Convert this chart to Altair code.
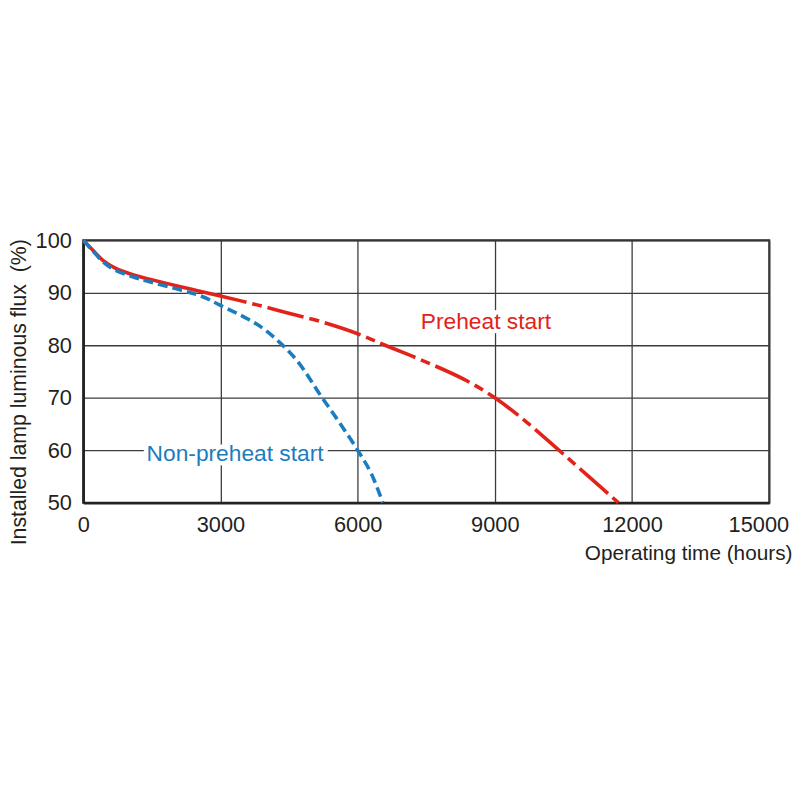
import altair as alt
import pandas as pd

# Preheat start (red)
red_x = [0, 200, 430, 700, 1100, 1450, 2150, 2500, 3000, 3800, 4450, 5200, 6000, 6600,
         7500, 8350, 9000, 9700, 10400, 11000, 11700]
red_y = [100, 98.2, 96.2, 94.7, 93.4, 92.6, 91.1, 90.4, 89.4, 87.7, 86.2, 84.5, 82.2, 80.0,
         76.8, 73.4, 70.0, 65.3, 60.0, 55.4, 50.0]
# Non-preheat start (blue)
blue_x = [0, 200, 430, 700, 1100, 1450, 2150, 2600, 3000, 3600, 3950, 4300, 4700, 5200, 5600,
          6000, 6300, 6550]
blue_y = [100, 98.1, 95.9, 94.3, 93.0, 92.1, 90.5, 89.3, 87.6, 85.0, 83.1, 80.5, 76.8, 70.3,
          65.3, 60.0, 55.5, 50.0]

x_ticks = [0, 3000, 6000, 9000, 12000, 15000]
y_ticks = [50, 60, 70, 80, 90, 100]

label_text = ["Preheat start", "Non-preheat start"]
label_x = [7381, 1385]
label_y = [83.15, 57.9]
label_color = ["#e2231a", "#1c7cc0"]

RED = "#e2231a"
BLUE = "#1c7cc0"
FONT = "Liberation Sans"
TXT = "#231f20"

red_df = pd.DataFrame({"t": red_x, "f": red_y})
blue_df = pd.DataFrame({"t": blue_x, "f": blue_y})
lab_df = pd.DataFrame({"text": label_text, "t": label_x, "f": label_y, "c": label_color})

xscale = alt.Scale(domain=[0, 15000], nice=False, zero=False)
yscale = alt.Scale(domain=[50, 100], nice=False, zero=False)

xaxis = alt.Axis(
    values=x_ticks, format="d", grid=True, gridColor="#3c3c3c", gridWidth=1.3,
    ticks=False, tickSize=0, domain=True, domainColor="#222", domainWidth=2.5,
    labelFont=FONT, labelFontSize=22, labelColor=TXT, labelBaseline="alphabetic",
    labelPadding=29, labelFlush=False,
    labelOffset={"condition": {"test": "datum.value == 15000", "value": -11}, "value": 0},
    title="Operating time (hours)", titleFont=FONT, titleFontSize=21, titleFontWeight="normal",
    titleColor=TXT, titleAlign="right", titleBaseline="alphabetic", titleX=716, titleY=57,
)
yaxis = alt.Axis(
    values=y_ticks, grid=True, gridColor="#3c3c3c", gridWidth=1.3,
    ticks=False, tickSize=0, domain=True, domainColor="#222", domainWidth=2.5,
    labelFont=FONT, labelFontSize=22, labelColor=TXT, labelPadding=12,
    title="Installed lamp luminous flux\u00a0\u00a0(%)", titleFont=FONT, titleFontSize=21.5,
    titleFontWeight="normal", titleColor=TXT, titleAngle=270, titleAlign="center",
    titleBaseline="middle", titleX=-64, titleY=153,
)

# solid first stretch, then long-dash / short-dash pattern
red_dash = [180] + [6, 10, 6, 38] * 14 + [6]

red_line = alt.Chart(red_df).mark_line(
    color=RED, strokeWidth=3.6, interpolate="catmull-rom", strokeDash=red_dash
).encode(x=alt.X("t:Q", scale=xscale, axis=xaxis), y=alt.Y("f:Q", scale=yscale, axis=yaxis))
blue_line = alt.Chart(blue_df).mark_line(
    color=BLUE, strokeWidth=3.6, interpolate="catmull-rom", strokeDash=[10, 5]
).encode(x="t:Q", y="f:Q")

halo = alt.Chart(lab_df).mark_text(
    font=FONT, fontSize=23, align="left", baseline="alphabetic",
    stroke="white", strokeWidth=9, fill="white", strokeJoin="round"
).encode(x="t:Q", y="f:Q", text="text:N")
labels = alt.Chart(lab_df).mark_text(
    font=FONT, fontSize=23, align="left", baseline="alphabetic"
).encode(x="t:Q", y="f:Q", text="text:N", color=alt.Color("c:N", scale=None))

chart = alt.layer(red_line, blue_line, halo, labels).properties(
    width=693, height=265,
    autosize=alt.AutoSizeParams(type="none"),
    padding={"left": 76, "top": 231, "right": 23, "bottom": 230},
    background="white",
).configure_view(stroke="#222", strokeWidth=2)

chart.save("out.html", embed_options={"renderer": "svg", "actions": False})
